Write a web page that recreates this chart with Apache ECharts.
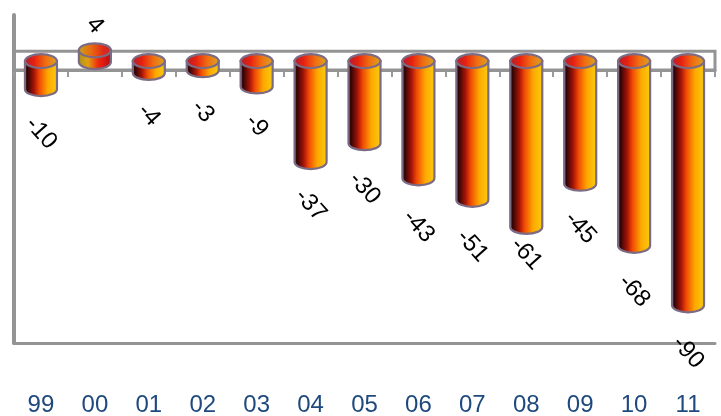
<!DOCTYPE html>
<html><head><meta charset="utf-8">
<style>html,body{margin:0;padding:0;background:#fff}#c{width:721px;height:416px}</style>
<script src="https://cdn.jsdelivr.net/npm/echarts@6/dist/echarts.min.js"></script>
</head><body><div id="c"></div>
<script>
const categories = ['99','00','01','02','03','04','05','06','07','08','09','10','11'];
const values = [-10,4,-4,-3,-9,-37,-30,-43,-51,-61,-45,-68,-90];
const upperLine = 7;
const labelGap = [36,34,34,33,31,35,37,40,38,19,36,37,39];
const chart = echarts.init(document.getElementById('c'), null, {renderer:'canvas'});
const LG = (stops)=>new echarts.graphic.LinearGradient(0,0,1,0,stops.map(c=>({offset:c[0],color:c[1]})));
const bodyNeg = LG([[0,'#6a2a18'],[0.1,'#300404'],[0.3,'#a81408'],[0.45,'#f04a05'],[0.7,'#fda800'],[1,'#f8d010']]);
const bodyPos = LG([[0,'#a89020'],[0.3,'#e0a010'],[0.6,'#f02810'],[0.88,'#c81010'],[1,'#901818']]);
const capNeg = LG([[0,'#a82030'],[0.3,'#e82010'],[0.65,'#f07010'],[1,'#d8a828']]);
const capPos = LG([[0,'#c8a818'],[0.4,'#e86810'],[0.75,'#e02818'],[1,'#c03030']]);
const stroke = '#7b6b84';
function cyl(params, api){
  const i = api.value(0), v = api.value(1);
  const zero = api.coord([i,0]), end = api.coord([i,v]);
  const w = 32, rx = w/2, ry = 7, x = zero[0], off = -8, k = 0.5523;
  const top = Math.min(zero[1],end[1])+off-1, bot = Math.max(zero[1],end[1])+off;
  const path = `M${x-rx} ${top}L${x-rx} ${bot}C${x-rx} ${bot+ry*k} ${x-rx*k} ${bot+ry} ${x} ${bot+ry}C${x+rx*k} ${bot+ry} ${x+rx} ${bot+ry*k} ${x+rx} ${bot}L${x+rx} ${top}Z`;
  const pos = v>0;
  return {type:'group',children:[
    {type:'path',shape:{pathData:path,layout:'center',x:x-rx,y:top,width:w,height:bot+ry-top},
     style:{fill:pos?bodyPos:bodyNeg,stroke:stroke,lineWidth:2.2}},
    {type:'ellipse',shape:{cx:x,cy:top,rx:rx,ry:ry},style:{fill:pos?capPos:capNeg,stroke:stroke,lineWidth:2.2}}
  ]};
}
function lab(params, api){
  const i = api.value(0), v = api.value(1);
  const end = api.coord([i,v]);
  const y = v>0 ? end[1]-labelGap[i] : end[1]+labelGap[i];
  return {type:'text',x:end[0],y:y,rotation:-48*Math.PI/180,
    style:{text:String(v),align:'center',verticalAlign:'middle',fill:'#000',
    font:'24px "Liberation Sans"'}};
}
const seriesData = categories.map((c,i)=>[i,values[i]]);
chart.setOption({
  animation:false,
  grid:{left:14,right:6,top:15,bottom:73,outerBoundsMode:'none'},
  xAxis:[
   {type:'category',data:categories,position:'bottom',axisLine:{onZero:false,lineStyle:{color:'#949494',width:3}},
    axisTick:{show:false},axisLabel:{color:'#1f497d',fontSize:24,fontFamily:'"Liberation Sans"',margin:50,interval:0}},
   {type:'category',data:categories,position:'bottom',axisLine:{onZero:true,lineStyle:{color:'#949494',width:3}},
    axisTick:{show:true,length:7,lineStyle:{color:'#9a9a9a',width:2}},axisLabel:{show:false}}
  ],
  yAxis:{type:'value',min:-101,max:20.4,axisLine:{show:true,lineStyle:{color:'#949494',width:4}},axisTick:{show:false},axisLabel:{show:false},splitLine:{show:false}},
  series:[
   {type:'custom',renderItem:cyl,data:seriesData,z:3,clip:false,encode:{x:0,y:1},
    markArea:{silent:true,label:{show:false},itemStyle:{color:'rgba(0,0,0,0)',borderColor:'#949494',borderWidth:3},data:[[{yAxis:upperLine},{yAxis:0}]],z:1}},
   {type:'custom',renderItem:lab,data:seriesData,z:5,clip:false,encode:{x:0,y:1}}
  ]
});
</script></body></html>
